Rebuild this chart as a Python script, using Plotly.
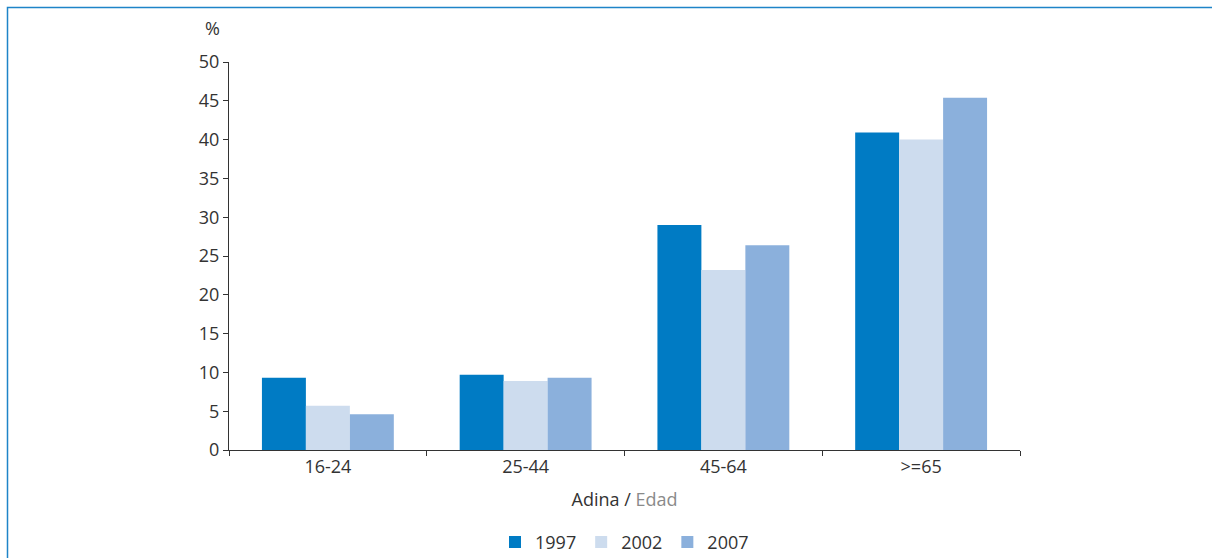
import plotly.graph_objects as go

categories = ["16-24", "25-44", "45-64", ">=65"]
years = ["1997", "2002", "2007"]
v1997 = [9.3, 9.7, 29.0, 40.9]
v2002 = [5.7, 8.9, 23.2, 40.0]
v2007 = [4.6, 9.3, 26.4, 45.4]
colors = ["#007BC4", "#CDDCEE", "#8BB0DC"]

W, H = 1212, 558
L, R, T, B = 229, 192, 62, 108
pw, ph = W - L - R, H - T - B

fig = go.Figure()
for name, vals, c in zip(years, [v1997, v2002, v2007], colors):
    fig.add_trace(go.Bar(x=categories, y=vals, name=name, marker=dict(color=c, line=dict(width=0))))

font = "Open Sans, Noto Sans, sans-serif"
fs = 18
fig.update_layout(
    width=W, height=H,
    margin=dict(l=L, r=R, t=T, b=B, autoexpand=False),
    paper_bgcolor="white", plot_bgcolor="white",
    barmode="group", bargap=0.333, bargroupgap=0,
    font=dict(family=font, size=fs, color="#333333"),
    showlegend=True,
    legend=dict(orientation="h", x=0.5, xanchor="center", y=-0.19, yanchor="top",
                font=dict(size=fs, color="#333333"), itemwidth=30, traceorder="normal"),
    xaxis=dict(showline=True, linecolor="#333333", linewidth=1, ticks="outside",
               tickson="boundaries", ticklen=5, tickcolor="#333333", showgrid=False,
               tickfont=dict(size=fs, color="#333333"),
               title=dict(text="Adina / <span style='color:#8a8a8a'>Edad</span>",
                          font=dict(size=fs, color="#333333"), standoff=16)),
    yaxis=dict(range=[0, 50], dtick=5, showline=True, linecolor="#333333", linewidth=1,
               ticks="outside", ticklen=5, tickcolor="#333333", showgrid=False,
               zeroline=False, tickfont=dict(size=fs, color="#333333")),
    annotations=[dict(text="%", xref="paper", yref="paper",
                      x=(212 - L) / pw, y=(H - B - 28) / ph, xanchor="center", yanchor="middle",
                      showarrow=False, font=dict(size=fs, color="#333333"))],
    shapes=[dict(type="rect", xref="paper", yref="paper", layer="below",
                 x0=(7.5 - L) / pw, x1=(1220 - L) / pw,
                 y0=(H - B - 565) / ph, y1=(H - B - 7.5) / ph,
                 line=dict(color="#1E84C8", width=1.5), fillcolor="rgba(0,0,0,0)")],
)
fig.write_html("out.html", config={"displayModeBar": False},
               post_script="document.body.style.margin='0px';document.body.style.overflow='hidden';")
